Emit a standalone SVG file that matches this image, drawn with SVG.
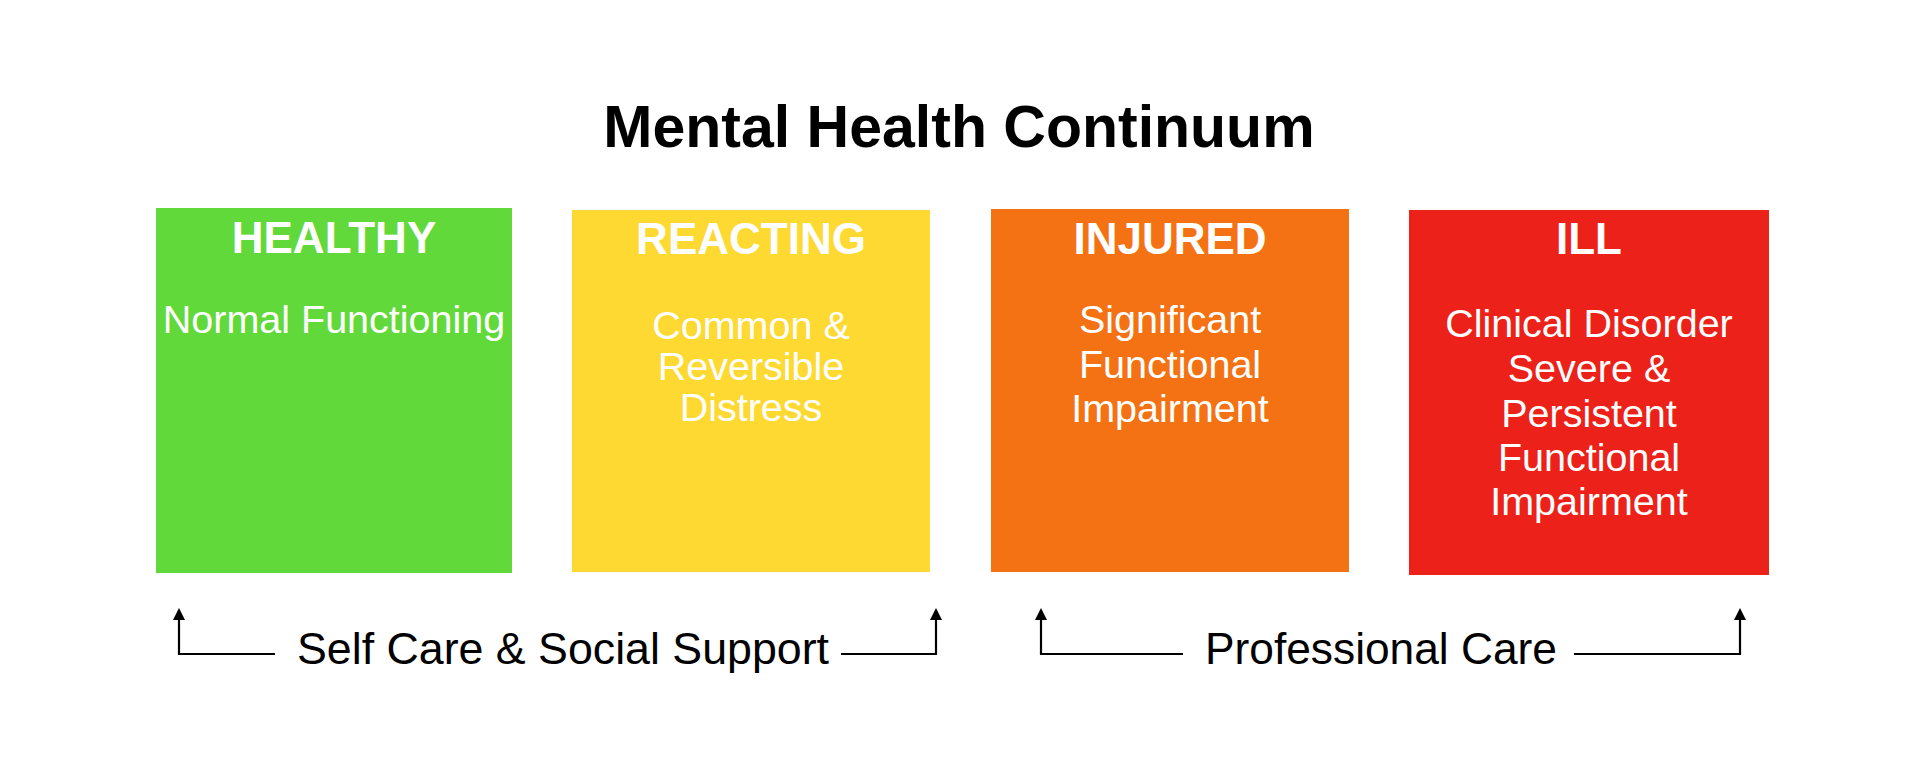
<svg xmlns="http://www.w3.org/2000/svg" width="1920" height="780" viewBox="0 0 1920 780">
  <style>
    .title { font-family: "Liberation Sans", Arial, sans-serif; font-weight: bold; font-size: 59px; fill: #000; text-anchor: middle; }
    .head { font-family: "Liberation Sans", Arial, sans-serif; font-weight: bold; font-size: 44px; fill: #fff; text-anchor: middle; }
    .body { font-family: "Liberation Sans", Arial, sans-serif; font-size: 39.5px; fill: #fff; text-anchor: middle; }
    .label { font-family: "Liberation Sans", Arial, sans-serif; font-size: 45px; fill: #000; }
    .conn { stroke: #000; stroke-width: 2.2; fill: none; }
  </style>
  <defs>
    <marker id="arrow" viewBox="0 0 12 12" refX="1" refY="6" markerWidth="12" markerHeight="12" markerUnits="userSpaceOnUse" orient="auto">
      <path d="M0,0 L12,6 L0,12 Z" fill="#000"/>
    </marker>
  </defs>
  <rect width="1920" height="780" fill="#fff"/>
  <text class="title" x="959" y="147">Mental Health Continuum</text>

  <g id="healthy">
    <rect x="156" y="208" width="356" height="365" fill="#62D93A"/>
    <text class="head" x="334" y="253">HEALTHY</text>
    <text class="body" x="334" y="333">Normal Functioning</text>
  </g>
  <g id="reacting">
    <rect x="572" y="210" width="358" height="362" fill="#FDD932"/>
    <text class="head" x="751" y="254">REACTING</text>
    <text class="body" x="751" y="339">Common &amp;</text>
    <text class="body" x="751" y="380">Reversible</text>
    <text class="body" x="751" y="421">Distress</text>
  </g>
  <g id="injured">
    <rect x="991" y="209" width="358" height="363" fill="#F47213"/>
    <text class="head" x="1170" y="254">INJURED</text>
    <text class="body" x="1170" y="333">Significant</text>
    <text class="body" x="1170" y="378">Functional</text>
    <text class="body" x="1170" y="422">Impairment</text>
  </g>
  <g id="ill">
    <rect x="1409" y="210" width="360" height="365" fill="#EC2119"/>
    <text class="head" x="1589" y="254">ILL</text>
    <text class="body" x="1589" y="337">Clinical Disorder</text>
    <text class="body" x="1589" y="382">Severe &amp;</text>
    <text class="body" x="1589" y="427">Persistent</text>
    <text class="body" x="1589" y="471">Functional</text>
    <text class="body" x="1589" y="515">Impairment</text>
  </g>

  <g id="connectors">
    <path class="conn" d="M275,654 H179 V619" marker-end="url(#arrow)"/>
    <path class="conn" d="M841,654 H936 V619" marker-end="url(#arrow)"/>
    <path class="conn" d="M1183,654 H1041 V619" marker-end="url(#arrow)"/>
    <path class="conn" d="M1574,654 H1740 V619" marker-end="url(#arrow)"/>
  </g>
  <g id="labels">
    <text class="label" x="297" y="664" textLength="532" lengthAdjust="spacingAndGlyphs">Self Care &amp; Social Support</text>
    <text class="label" x="1205" y="664" textLength="352" lengthAdjust="spacingAndGlyphs">Professional Care</text>
  </g>
</svg>
